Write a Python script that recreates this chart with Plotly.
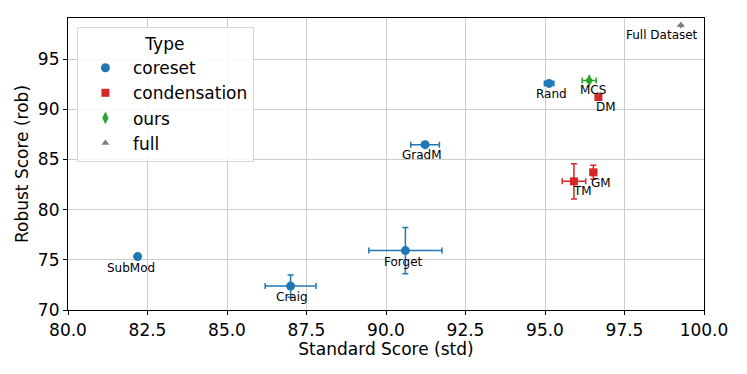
import plotly.graph_objects as go

# data
methods = ["SubMod", "Craig", "Forget", "GradM", "Rand", "DM", "GM", "TM", "MCS", "Full Dataset"]
types = ["coreset", "coreset", "coreset", "coreset", "coreset",
         "condensation", "condensation", "condensation", "ours", "full"]
std_score = [82.19, 87.0, 90.61, 91.23, 95.13, 96.68, 96.52, 95.91, 96.39, 99.27]
rob_score = [75.32, 72.38, 75.92, 86.48, 92.58, 91.22, 83.72, 82.82, 92.88, 98.38]
std_err = [0.0, 0.8, 1.15, 0.45, 0.15, 0.0, 0.1, 0.37, 0.22, 0.0]
rob_err = [0.0, 1.1, 2.3, 0.1, 0.1, 0.0, 0.7, 1.75, 0.1, 0.0]

type_order = ["coreset", "condensation", "ours", "full"]
colors = {"coreset": "#1f77b4", "condensation": "#d62728", "ours": "#2ca02c", "full": "#7f7f7f"}
symbols = {"coreset": "circle", "condensation": "square", "ours": "diamond-tall", "full": "triangle-up"}
sizes = {"coreset": 9, "condensation": 8, "ours": 9, "full": 7}

# label offsets in px (dx right, dy down) to mimic the text placement
label_shift = {
    "SubMod": (-7, 11), "Craig": (1, 11), "Forget": (-2, 11), "GradM": (-3, 10),
    "Rand": (2, 11), "MCS": (4, 10), "DM": (8, 10), "Full Dataset": (-19, 10),
    "GM": (8, 11), "TM": (9, 10),
}

FONT = "DejaVu Sans, Liberation Sans, sans-serif"

fig = go.Figure()
for t in type_order:
    idx = [i for i, v in enumerate(types) if v == t]
    c = colors[t]
    fig.add_trace(go.Scatter(
        x=[std_score[i] for i in idx],
        y=[rob_score[i] for i in idx],
        mode="markers",
        name=t,
        legendgroup=t,
        marker=dict(color=c, symbol=symbols[t], size=sizes[t], line=dict(width=0)),
        error_x=dict(type="data", array=[std_err[i] for i in idx], color=c, thickness=1.5, width=3),
        error_y=dict(type="data", array=[rob_err[i] for i in idx], color=c, thickness=1.5, width=3),
    ))

for m, x, y in zip(methods, std_score, rob_score):
    dx, dy = label_shift[m]
    fig.add_annotation(
        x=x, y=y, text=m, showarrow=False,
        xshift=dx, yshift=-dy,
        font=dict(family=FONT, size=12, color="black"),
    )

axis_common = dict(
    showgrid=True, gridcolor="#cccccc", gridwidth=1,
    showline=True, linecolor="black", linewidth=1.2, mirror=True,
    ticks="outside", ticklen=4, tickcolor="black",
    zeroline=False,
    tickfont=dict(family=FONT, size=17, color="black"),
)

# the page body has an 8px margin, so the figure is sized to fit inside it
fig.update_layout(
    width=731, height=358,
    paper_bgcolor="white", plot_bgcolor="white",
    margin=dict(l=60, r=35, t=10, b=56),
    font=dict(family=FONT, color="black"),
    xaxis=dict(
        range=[80, 100], tickvals=[80, 82.5, 85, 87.5, 90, 92.5, 95, 97.5, 100],
        ticktext=["80.0", "82.5", "85.0", "87.5", "90.0", "92.5", "95.0", "97.5", "100.0"],
        title=dict(text="Standard Score (std)", font=dict(family=FONT, size=17), standoff=4),
        **axis_common,
    ),
    yaxis=dict(
        range=[70, 99.1], tickvals=[70, 75, 80, 85, 90, 95],
        title=dict(text="Robust Score (rob)", font=dict(family=FONT, size=17), standoff=4),
        **axis_common,
    ),
    legend=dict(
        title=dict(text="Type", side="top center", font=dict(family=FONT, size=17)),
        font=dict(family=FONT, size=17),
        x=0.014, y=0.969, xanchor="left", yanchor="top",
        bgcolor="rgba(255,255,255,0.85)", bordercolor="#d9d9d9", borderwidth=1,
        tracegroupgap=0, itemwidth=45,
    ),
)

fig.write_html("out.html")
